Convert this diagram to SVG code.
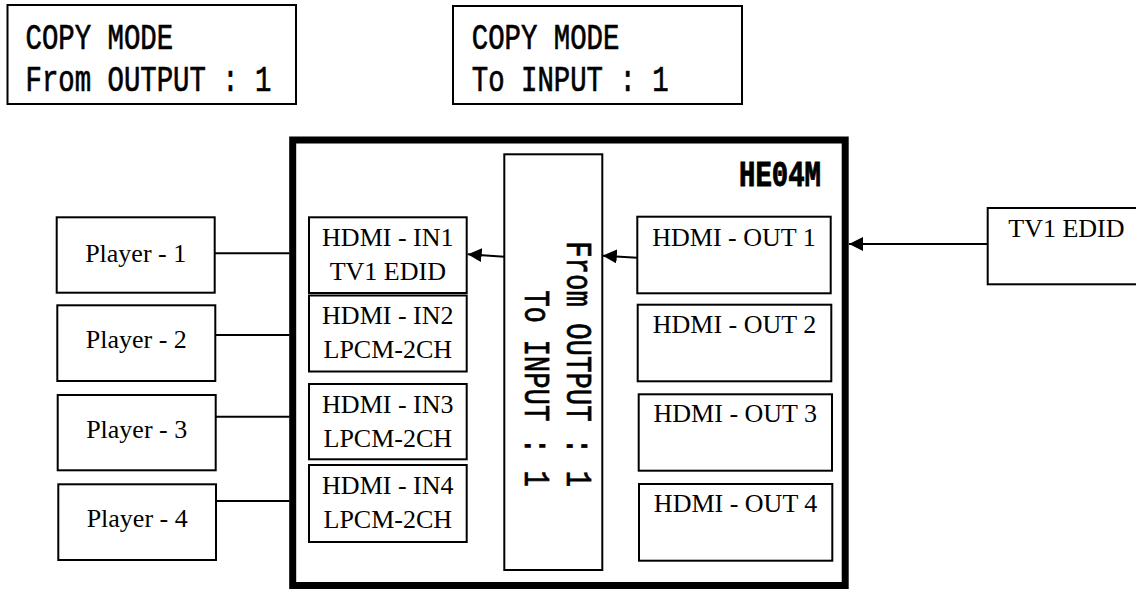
<svg xmlns="http://www.w3.org/2000/svg" width="1136" height="589" viewBox="0 0 1136 589">
<style>
.box{fill:#fff;stroke:#000;stroke-width:2}
.serif{font-family:"Liberation Serif","Times New Roman",serif;font-size:26px;fill:#000}
.mid{text-anchor:middle}
.mono{font-family:"Liberation Mono","Courier New",monospace;font-size:36px;fill:#000;stroke:#000;stroke-width:0.7}
.bold{font-weight:bold;stroke-width:0.9}
.ln{stroke:#000;stroke-width:2;fill:none}
</style>
<defs>
<marker id="ah" markerUnits="userSpaceOnUse" markerWidth="14" markerHeight="14" refX="14" refY="7" orient="auto">
<path d="M0,0 L14,7 L0,14 z" fill="#000"/>
</marker>
</defs>
<rect width="1136" height="589" fill="#fff"/>

<g id="copy-from">
<rect class="box" x="7.5" y="5" width="288.5" height="99"/>
<text class="mono" x="25.5" y="48.7" textLength="147.6" lengthAdjust="spacingAndGlyphs">COPY MODE</text>
<text class="mono" x="25.5" y="90.7" textLength="246" lengthAdjust="spacingAndGlyphs">From OUTPUT : 1</text>
</g>

<g id="copy-to">
<rect class="box" x="453" y="6" width="289" height="98"/>
<text class="mono" x="471.8" y="49.3" textLength="147.6" lengthAdjust="spacingAndGlyphs">COPY MODE</text>
<text class="mono" x="471.8" y="90.7" textLength="196.8" lengthAdjust="spacingAndGlyphs">To INPUT : 1</text>
</g>

<g id="he04m">
<rect x="292.7" y="140" width="552.5" height="445.5" fill="#fff" stroke="#000" stroke-width="7"/>
<text class="mono bold" x="739" y="186" textLength="82" lengthAdjust="spacingAndGlyphs">HE04M</text>
</g>

<g id="copy-path">
<rect class="box" x="504.3" y="154.3" width="98" height="415.7"/>
<text class="mono" transform="translate(567,241.2) rotate(90)" textLength="246" lengthAdjust="spacingAndGlyphs">From OUTPUT : 1</text>
<text class="mono" transform="translate(525,290.2) rotate(90)" textLength="196.8" lengthAdjust="spacingAndGlyphs">To INPUT : 1</text>
</g>

<g id="player-1">
<rect class="box" x="56.7" y="217.3" width="158" height="75.4"/>
<text class="serif mid" x="135.7" y="261.5">Player - 1</text>
</g>
<g id="player-2">
<rect class="box" x="57.3" y="305.3" width="158" height="75.7"/>
<text class="serif mid" x="136.3" y="348.3">Player - 2</text>
</g>
<g id="player-3">
<rect class="box" x="57.7" y="395" width="158" height="75.3"/>
<text class="serif mid" x="136.7" y="437.7">Player - 3</text>
</g>
<g id="player-4">
<rect class="box" x="58.3" y="484.3" width="157.7" height="75.7"/>
<text class="serif mid" x="137.2" y="526.7">Player - 4</text>
</g>

<g id="in-1">
<rect class="box" x="309" y="217.3" width="157.7" height="75.7"/>
<text class="serif mid" x="387.8" y="246">HDMI - IN1</text>
<text class="serif mid" x="387.8" y="280">TV1 EDID</text>
</g>
<g id="in-2">
<rect class="box" x="309" y="295.5" width="157.7" height="76"/>
<text class="serif mid" x="387.8" y="324">HDMI - IN2</text>
<text class="serif mid" x="387.8" y="358.3">LPCM-2CH</text>
</g>
<g id="in-3">
<rect class="box" x="309" y="384" width="157.7" height="75.3"/>
<text class="serif mid" x="387.8" y="412.5">HDMI - IN3</text>
<text class="serif mid" x="387.8" y="446.8">LPCM-2CH</text>
</g>
<g id="in-4">
<rect class="box" x="309" y="465" width="157.7" height="77"/>
<text class="serif mid" x="387.8" y="493.5">HDMI - IN4</text>
<text class="serif mid" x="387.8" y="527.8">LPCM-2CH</text>
</g>

<g id="out-1">
<rect class="box" x="637.3" y="216.7" width="193.4" height="76.6"/>
<text class="serif mid" x="734" y="245.7">HDMI - OUT 1</text>
</g>
<g id="out-2">
<rect class="box" x="637.7" y="304.7" width="193.6" height="76.6"/>
<text class="serif mid" x="734.5" y="333.3">HDMI - OUT 2</text>
</g>
<g id="out-3">
<rect class="box" x="638.7" y="394.3" width="193.3" height="76.4"/>
<text class="serif mid" x="735.3" y="421.7">HDMI - OUT 3</text>
</g>
<g id="out-4">
<rect class="box" x="639" y="484" width="193.3" height="76.7"/>
<text class="serif mid" x="735.6" y="511.7">HDMI - OUT 4</text>
</g>

<g id="tv1-edid">
<rect class="box" x="987.7" y="208" width="160" height="76.3"/>
<text class="serif" x="1008.3" y="236.7">TV1 EDID</text>
</g>

<g id="connectors">
<line class="ln" x1="214.7" y1="253.3" x2="289.5" y2="253.3"/>
<line class="ln" x1="215.3" y1="335" x2="289.5" y2="335"/>
<line class="ln" x1="215.7" y1="416.7" x2="289.5" y2="416.7"/>
<line class="ln" x1="216" y1="501" x2="289.5" y2="501"/>
<line class="ln" x1="504.3" y1="256.7" x2="467.7" y2="254.3" marker-end="url(#ah)"/>
<line class="ln" x1="637.3" y1="257.7" x2="602.8" y2="255.7" marker-end="url(#ah)"/>
<line class="ln" x1="987.7" y1="244" x2="849" y2="244" marker-end="url(#ah)"/>
</g>
</svg>
